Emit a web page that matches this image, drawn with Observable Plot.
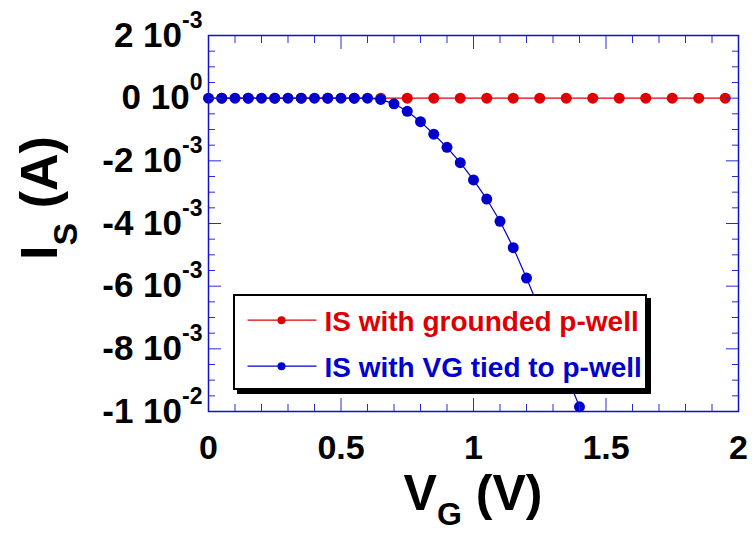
<!DOCTYPE html>
<html><head><meta charset="utf-8">
<script src="https://cdn.jsdelivr.net/npm/d3@7"></script>
<script src="https://cdn.jsdelivr.net/npm/@observablehq/plot@0.6"></script>
<style>
html,body{margin:0;padding:0;background:#fff;}
#wrap{position:relative;width:755px;height:533px;font-family:"Liberation Sans",Arial,sans-serif;font-weight:bold;}
#wrap > svg{position:absolute;left:0;top:0;}
#legend{position:absolute;left:233px;top:294px;width:410px;height:92px;border:2.5px solid #000;background:#fff;box-shadow:4px 4px 0 #000;}
#legend svg{position:absolute;left:0;top:0;}
</style>
</head><body>
<div id="wrap"><div id="legend"></div></div>
<script>
// ---- data ----
const redVG = [0.05,0.15,0.25,0.35,0.45,0.55,0.65,0.75,0.85,0.95,1.05,1.15,1.25,1.35,1.45,1.55,1.65,1.75,1.85,1.95];
const redIS = [0,0,0,0,0,0,0,0,0,0,0,0,0,0,0,0,0,0,0,0];
const blueVG = [0,0.05,0.1,0.15,0.2,0.25,0.3,0.35,0.4,0.45,0.5,0.55,0.6,0.65,0.7,0.75,0.8,0.85,0.9,0.95,1.0,1.05,1.1,1.15,1.2,1.25,1.3,1.35,1.4];
const blueIS = [0,0,0,0,0,0,0,0,0,0,0,0,0,-0.00004,-0.00018,-0.00042,-0.00075,-0.00115,-0.00157,-0.00206,-0.00261,-0.00322,-0.00393,-0.00477,-0.00574,-0.00675,-0.00778,-0.00881,-0.00985];
const seriesNames = ["IS with grounded p-well","IS with VG tied to p-well"];
const seriesColors = ["#dd0000","#0000cc"];
const xMajorTicks = [0,0.5,1,1.5,2];
const xTickLabels = ["0","0.5","1","1.5","2"];
const xMinorTicks = [0.1,0.2,0.3,0.4,0.6,0.7,0.8,0.9,1.1,1.2,1.3,1.4,1.6,1.7,1.8,1.9];
const yMajorTicks = [0.002,0,-0.002,-0.004,-0.006,-0.008,-0.01];
const yTickMantissa = ["2","0","-2","-4","-6","-8","-1"];
const yTickExponent = ["-3","0","-3","-3","-3","-3","-2"];
const yMinorTicks = [0.0015,0.001,0.0005,-0.0005,-0.001,-0.0015,-0.0025,-0.003,-0.0035,-0.0045,-0.005,-0.0055,-0.0065,-0.007,-0.0075,-0.0085,-0.009,-0.0095];

const red = redVG.map((x,i)=>({x, y: redIS[i]}));
const blue = blueVG.map((x,i)=>({x, y: blueIS[i]}));

const tickColor = "#2a2ad8";
const frameColor = "#1010cc";
const FONT = "'Liberation Sans', Arial, sans-serif";

const chart = Plot.plot({
  width: 755, height: 533,
  marginLeft: 208, marginRight: 17, marginTop: 35, marginBottom: 122,
  style: {fontFamily: FONT, fontWeight: "bold", background: "transparent"},
  x: {domain: [0, 2], label: null},
  y: {domain: [-0.01, 0.002], label: null},
  marks: [
    Plot.line(red, {x: "x", y: "y", stroke: seriesColors[0], strokeWidth: 1.4, clip: true}),
    Plot.dot(red, {x: "x", y: "y", r: 5.5, fill: seriesColors[0], stroke: "none", clip: true}),
    Plot.line(blue, {x: "x", y: "y", stroke: seriesColors[1], strokeWidth: 1.2, clip: true}),
    Plot.dot(blue, {x: "x", y: "y", r: 5.5, fill: seriesColors[1], stroke: "none"}),
    // minor ticks
    Plot.axisX(xMinorTicks, {anchor: "bottom", tickSize: -7, tickFormat: () => "", stroke: tickColor, label: null}),
    Plot.axisX(xMinorTicks, {anchor: "top", tickSize: -7, tickFormat: () => "", stroke: tickColor, label: null}),
    Plot.axisY(yMinorTicks, {anchor: "left", tickSize: -7, tickFormat: () => "", stroke: tickColor, label: null}),
    Plot.axisY(yMinorTicks, {anchor: "right", tickSize: -7, tickFormat: () => "", stroke: tickColor, label: null}),
    // major ticks
    Plot.axisX(xMajorTicks, {anchor: "top", tickSize: -13, tickFormat: () => "", stroke: tickColor, label: null}),
    Plot.axisX(xMajorTicks, {anchor: "bottom", tickSize: -13, tickFormat: () => "", stroke: tickColor, label: null}),
    Plot.axisY(yMajorTicks, {anchor: "left", tickSize: -13, tickFormat: () => "", stroke: tickColor, label: null}),
    Plot.axisY(yMajorTicks, {anchor: "right", tickSize: -13, tickFormat: () => "", stroke: tickColor, label: null}),
    // labels
    Plot.axisX(xMajorTicks, {anchor: "bottom", tickSize: 0, tickPadding: 23, fontSize: 34, fill: "#000",
      tickFormat: d => xTickLabels[xMajorTicks.indexOf(d)], label: null}),
    Plot.axisY(yMajorTicks, {anchor: "left", tickSize: 0, tickPadding: 6, fontSize: 35, fill: "#000",
      tickFormat: d => { const i = yMajorTicks.indexOf(d); return yTickMantissa[i] + " 10^" + yTickExponent[i]; }, label: null}),
    Plot.frame({stroke: frameColor, strokeWidth: 1.5})
  ]
});

const wrap = document.getElementById("wrap");
wrap.insertBefore(chart, wrap.firstChild);

const svg = d3.select(chart);
// superscripts for y tick labels
svg.selectAll('g[aria-label="y-axis tick label"]').attr("font-size", 35);
svg.selectAll('g[aria-label="y-axis tick label"] text').each(function() {
  const t = d3.select(this);
  const s = t.text();
  if (!s.includes("^")) return;
  const [m, e] = s.split("^");
  t.text(null);
  t.append("tspan").text(m);
  t.append("tspan").attr("dy", "-19").attr("font-size", 23).text(e);
});

// axis titles
const xt = svg.append("text")
  .attr("x", 473).attr("y", 510).attr("text-anchor", "middle")
  .attr("font-size", 50).attr("font-weight", "bold").attr("fill", "#000")
  .attr("font-family", FONT);
xt.append("tspan").text("V");
xt.append("tspan").attr("font-size", 32).attr("dy", 15).text("G");
xt.append("tspan").attr("dy", -15).text(" (V)");

const yt = svg.append("text")
  .attr("transform", "translate(57,198) rotate(-90)").attr("text-anchor", "middle")
  .attr("font-size", 52).attr("font-weight", "bold").attr("fill", "#000")
  .attr("font-family", FONT);
yt.append("tspan").text("I");
yt.append("tspan").attr("font-size", 34).attr("dy", 20).text("S");
yt.append("tspan").attr("dy", -20).text(" (A)");

// legend
const lg = d3.select("#legend").append("svg").attr("width", 410).attr("height", 92);
const rowsY = [24.2, 70.2];
seriesNames.forEach((name, i) => {
  const g = lg.append("g");
  g.append("line").attr("x1", 12.5).attr("x2", 81.5).attr("y1", rowsY[i]).attr("y2", rowsY[i])
    .attr("stroke", seriesColors[i]).attr("stroke-width", 1.2);
  g.append("circle").attr("cx", 46.5).attr("cy", rowsY[i]).attr("r", 4).attr("fill", seriesColors[i]);
  g.append("text").attr("x", 89.5).attr("y", rowsY[i] + 11)
    .attr("font-size", 28).attr("font-weight", "bold").attr("font-family", FONT)
    .attr("fill", seriesColors[i]).text(name);
});
</script>
</body></html>
